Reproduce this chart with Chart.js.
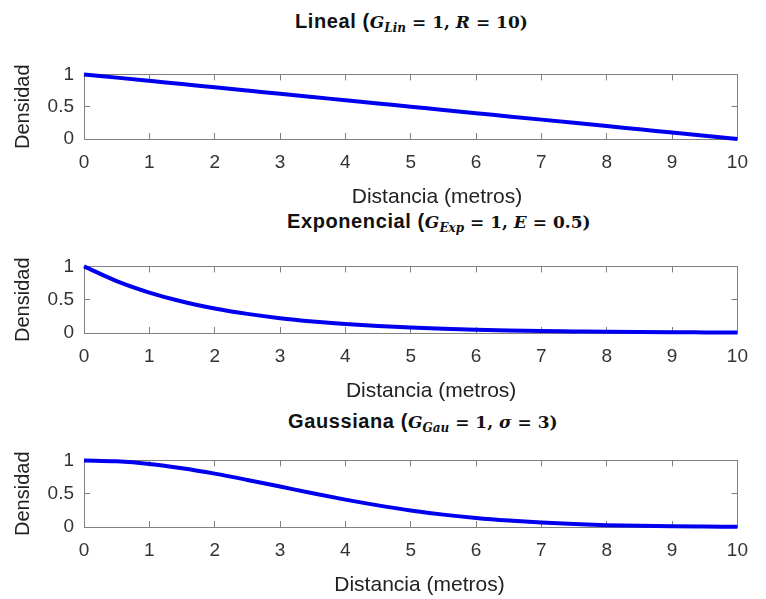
<!DOCTYPE html>
<html>
<head>
<meta charset="utf-8">
<script src="https://cdn.jsdelivr.net/npm/chart.js@4"></script>
<style>
  body { margin: 0; background: #fff; width: 766px; height: 599px; position: relative; overflow: hidden; }
  canvas { position: absolute; left: 0; }
  .titulo {
    position: absolute; text-align: left;
    font: bold 20px 'Liberation Sans', Arial, sans-serif; color: #111;
    letter-spacing: 0.6px; line-height: 24px; white-space: nowrap;
  }
  .titulo .m { font-family: 'DejaVu Serif', serif; font-size: 17px; letter-spacing: 0; }
  .titulo sub { font-size: 12px; }
</style>
</head>
<body>
<div class="titulo" style="top:9px; left:295px">Lineal (<span class="m"><i>G</i><sub><i>Lin</i></sub> = 1, <i>R</i> = 10)</span></div>
<canvas id="lineal" width="766" height="162" style="top:47px"></canvas>
<div class="titulo" style="top:209px; left:287px">Exponencial (<span class="m"><i>G</i><sub><i>Exp</i></sub> = 1, <i>E</i> = 0.5)</span></div>
<canvas id="exponencial" width="766" height="164" style="top:239px"></canvas>
<div class="titulo" style="top:409px; left:288px">Gaussiana (<span class="m"><i>G</i><sub><i>Gau</i></sub> = 1, <i>σ</i> = 3)</span></div>
<canvas id="gaussiana" width="766" height="164" style="top:433px"></canvas>

<script>
// distance in metres and density for each model
const distancias = [0, 0.5, 1, 1.5, 2, 2.5, 3, 3.5, 4, 4.5, 5, 5.5, 6, 6.5, 7, 7.5, 8, 8.5, 9, 9.5, 10];
const densidadLineal = [1, 0.95, 0.9, 0.85, 0.8, 0.75, 0.7, 0.65, 0.6, 0.55, 0.5, 0.45, 0.4, 0.35, 0.3, 0.25, 0.2, 0.15, 0.1, 0.05, 0];
const densidadExponencial = [1, 0.779, 0.607, 0.472, 0.368, 0.287, 0.223, 0.174, 0.135, 0.105, 0.082, 0.064, 0.05, 0.039, 0.03, 0.024, 0.018, 0.014, 0.011, 0.009, 0.007];
const densidadGaussiana = [1, 0.986, 0.946, 0.882, 0.801, 0.707, 0.607, 0.506, 0.411, 0.325, 0.249, 0.186, 0.135, 0.096, 0.066, 0.044, 0.028, 0.018, 0.011, 0.007, 0.004];
const ticksX = [0, 1, 2, 3, 4, 5, 6, 7, 8, 9, 10];
const ticksY = [0, 0.5, 1];

const fuente = "'Liberation Sans', Arial, sans-serif";
const gris = '#808080';

// ticks drawn inward, like a boxed axes
const rejilla = { drawOnChartArea: false, tickLength: -6, color: gris, lineWidth: 1 };
const borde = { color: gris, width: 1 };

// desplazamiento: leading spaces nudge the x label to the right
function panel(id, valores, desplazamiento) {
  new Chart(document.getElementById(id), {
    type: 'line',
    data: {
      datasets: [{
        data: distancias.map((d, i) => ({ x: d, y: valores[i] })),
        borderColor: '#0000ee',
        borderWidth: 4,
        pointRadius: 0,
        cubicInterpolationMode: 'monotone',
        clip: false
      }]
    },
    options: {
      responsive: false,
      animation: false,
      layout: { padding: { top: 12, right: 13, left: 0, bottom: 0 } },
      plugins: { legend: { display: false }, tooltip: { enabled: false } },
      scales: {
        x: {
          type: 'linear', position: 'bottom', min: 0, max: 10,
          afterBuildTicks: s => { s.ticks = ticksX.map(v => ({ value: v })); },
          afterFit: s => { s.height = 70; },
          grid: rejilla, border: borde,
          ticks: { padding: 18, color: '#333', maxRotation: 0, autoSkip: false,
                   font: { family: fuente, size: 19, lineHeight: 1.2 } },
          title: { display: true, text: ' '.repeat(desplazamiento) + 'Distancia (metros)', color: '#222',
                   font: { family: fuente, size: 21, lineHeight: 1.1 }, padding: { top: 0, bottom: 0 } }
        },
        x2: {
          type: 'linear', position: 'top', min: 0, max: 10,
          afterBuildTicks: s => { s.ticks = ticksX.map(v => ({ value: v })); },
          afterFit: s => { s.height = 0; },
          grid: rejilla, border: borde, ticks: { display: false }
        },
        y: {
          type: 'linear', position: 'left', min: 0, max: 1,
          afterBuildTicks: s => { s.ticks = ticksY.map(v => ({ value: v })); },
          afterFit: s => { s.width = 84; },
          grid: rejilla, border: borde,
          ticks: { padding: 16, color: '#333', callback: v => String(v),
                   font: { family: fuente, size: 19, lineHeight: 1.2 } },
          title: { display: true, text: 'Densidad', color: '#222',
                   font: { family: fuente, size: 20, lineHeight: 1.2 }, padding: { top: 11, bottom: 0 } }
        },
        y2: {
          type: 'linear', position: 'right', min: 0, max: 1,
          afterBuildTicks: s => { s.ticks = ticksY.map(v => ({ value: v })); },
          afterFit: s => { s.width = 0; },
          grid: rejilla, border: borde, ticks: { display: false }
        }
      }
    }
  });
}

panel('lineal', densidadLineal, 9);
panel('exponencial', densidadExponencial, 7);
panel('gaussiana', densidadGaussiana, 3);
</script>
</body>
</html>
